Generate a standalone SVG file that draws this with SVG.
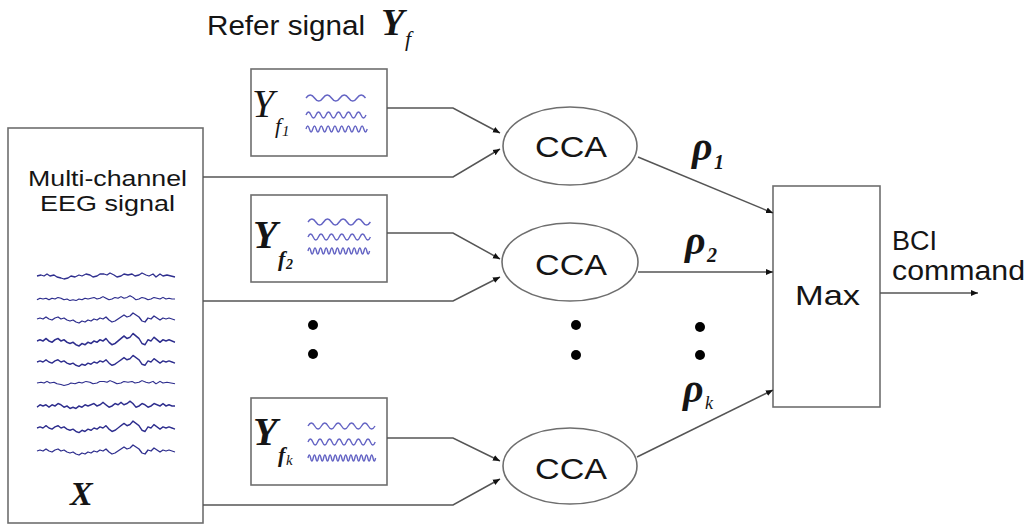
<svg xmlns="http://www.w3.org/2000/svg" xmlns:xlink="http://www.w3.org/1999/xlink" width="1028" height="527" viewBox="0 0 1028 527">
<style>
.box{fill:#fff;stroke:#6e6e6e;stroke-width:1.6}
.ell{fill:#fff;stroke:#6e6e6e;stroke-width:1.6}
.lbl{font-family:"Liberation Sans",Arial,sans-serif;fill:#151515}
.math{font-family:"Liberation Serif","Times New Roman",serif;font-style:italic;fill:#151515}
.conn{fill:none;stroke:#555;stroke-width:1.5}
.wave{fill:none;stroke:#6464c4;stroke-width:1.4}
.eeg{fill:none;stroke:#2e2e8e;stroke-width:1.3;stroke-linejoin:round;vector-effect:non-scaling-stroke}
.dot{fill:#000}
</style>
<defs>
<marker id="ah" markerWidth="9" markerHeight="8" refX="7" refY="4" orient="auto" markerUnits="userSpaceOnUse"><path d="M0,1 L7,4 L0,7 z" fill="#111"/></marker>
<polyline id="eegA" points="37,0 41,-1 44,0 47,-2 50,0 54,-1 57,1 61,2 64,3 68,2 71,0 75,1 79,-1 82,0 86,-2 90,-1 93,1 97,0 100,-2 104,-2 107,-1 110,-3 114,-1 117,1 121,0 124,-2 128,-1 132,-2 135,0 139,-1 142,-3 146,-1 149,0 153,-2 156,1 160,-2 163,0 167,-1 171,0 175,1"/>
<polyline id="eegB" points="37,0 40,-1 43,0 46,-2 49,0 52,1 55,-1 58,-2 61,0 64,-1 67,1 70,2 73,1 76,3 79,4 82,2 85,3 88,1 91,2 94,0 97,1 100,-1 103,0 106,-2 109,1 112,3 115,2 118,0 121,-2 124,-4 127,-2 130,-3 133,-6 136,-4 139,-2 142,2 145,3 148,-1 151,0 154,-3 157,-1 160,1 163,-1 166,0 169,-1 172,0 175,1"/>
<polyline id="eegC" points="37,1 40,-1 43,0 46,-1 49,1 52,-1 55,0 58,-2 61,-1 64,1 67,0 70,2 73,1 76,2 79,0 82,1 85,-1 88,0 91,-1 94,-2 97,0 100,-1 103,-3 106,-1 109,1 112,0 115,-2 118,-1 121,-3 124,-1 127,-2 130,-4 133,-2 136,1 139,0 142,-2 145,-1 148,1 151,0 154,-2 157,-1 160,0 163,-2 166,0 169,-1 172,0 175,0"/>
</defs>

<g id="refer-title">
<text class="lbl" x="207" y="35" font-size="27" textLength="158" lengthAdjust="spacingAndGlyphs">Refer signal</text>
<text class="math" x="381" y="35" font-size="38" font-weight="bold">Y</text>
<text class="math" x="405" y="46" font-size="22">f</text>
</g>

<g id="eeg-signal">
<rect class="box" x="8" y="128" width="195" height="395"/>
<text class="lbl" x="28" y="186" font-size="22" textLength="159" lengthAdjust="spacingAndGlyphs">Multi-channel</text>
<text class="lbl" x="40" y="211" font-size="22" textLength="135" lengthAdjust="spacingAndGlyphs">EEG signal</text>
<use xlink:href="#eegA" class="eeg" transform="translate(0,276)"/>
<use xlink:href="#eegC" class="eeg" transform="translate(0,299) scale(1,0.8)"/>
<use xlink:href="#eegB" class="eeg" transform="translate(0,319)"/>
<use xlink:href="#eegB" class="eeg" transform="translate(0,341) scale(1,1.25)"/>
<use xlink:href="#eegB" class="eeg" transform="translate(0,362) scale(1,1.1)"/>
<use xlink:href="#eegA" class="eeg" transform="translate(0,383) scale(1,0.8)"/>
<use xlink:href="#eegC" class="eeg" transform="translate(0,406) scale(1,1.2)"/>
<use xlink:href="#eegB" class="eeg" transform="translate(0,428) scale(1,1.15)"/>
<use xlink:href="#eegB" class="eeg" transform="translate(0,451)"/>
<text class="math" x="70" y="505" font-size="34" font-weight="bold">X</text>
</g>

<g id="ref-f1">
<rect class="box" x="251" y="69" width="136" height="87"/>
<text class="math" x="252" y="117" font-size="40">Y</text>
<text class="math" x="275" y="133" font-size="22">f</text>
<text class="math" x="282" y="136" font-size="15" font-style="normal">1</text>
<path class="wave" d="M306,98 q4.25,-6 8.5,0 t8.5,0 t8.5,0 t8.5,0 t8.5,0 t8.5,0 t8.5,0"/>
<path class="wave" d="M306,115 q2.5,-6 5,0 t5,0 t5,0 t5,0 t5,0 t5,0 t5,0 t5,0 t5,0 t5,0 t5,0 t5,0"/>
<path class="wave" d="M306,129 q1.7,-6 3.4,0 t3.4,0 t3.4,0 t3.4,0 t3.4,0 t3.4,0 t3.4,0 t3.4,0 t3.4,0 t3.4,0 t3.4,0 t3.4,0 t3.4,0 t3.4,0 t3.4,0 t3.4,0 t3.4,0 t3.4,0"/>
</g>

<g id="ref-f2">
<rect class="box" x="251" y="195" width="136" height="87"/>
<text class="math" x="253" y="248" font-size="40" font-weight="bold">Y</text>
<text class="math" x="278" y="266" font-size="22" font-weight="bold">f</text>
<text class="math" x="286" y="269" font-size="14" font-weight="bold" font-style="normal">2</text>
<path class="wave" d="M308,222 q3.9,-6 7.8,0 t7.8,0 t7.8,0 t7.8,0 t7.8,0 t7.8,0 t7.8,0 t7.8,0"/>
<path class="wave" d="M308,237 q2.6,-6 5.2,0 t5.2,0 t5.2,0 t5.2,0 t5.2,0 t5.2,0 t5.2,0 t5.2,0 t5.2,0 t5.2,0 t5.2,0 t5.2,0"/>
<path class="wave" d="M308,251 q1.4,-6 2.8,0 t2.8,0 t2.8,0 t2.8,0 t2.8,0 t2.8,0 t2.8,0 t2.8,0 t2.8,0 t2.8,0 t2.8,0 t2.8,0 t2.8,0 t2.8,0 t2.8,0 t2.8,0 t2.8,0 t2.8,0 t2.8,0 t2.8,0 t2.8,0 t2.8,0"/>
</g>

<g id="ref-fk">
<rect class="box" x="251" y="398" width="136" height="87"/>
<text class="math" x="253" y="445" font-size="40" font-weight="bold">Y</text>
<text class="math" x="278" y="462" font-size="22" font-weight="bold">f</text>
<text class="math" x="286" y="465" font-size="15">k</text>
<path class="wave" d="M308,426 q3.35,-6 6.7,0 t6.7,0 t6.7,0 t6.7,0 t6.7,0 t6.7,0 t6.7,0 t6.7,0 t6.7,0 t6.7,0"/>
<path class="wave" d="M308,442 q2.4,-6 4.8,0 t4.8,0 t4.8,0 t4.8,0 t4.8,0 t4.8,0 t4.8,0 t4.8,0 t4.8,0 t4.8,0 t4.8,0 t4.8,0 t4.8,0 t4.8,0"/>
<path class="wave" d="M308,458 q1.3,-6 2.6,0 t2.6,0 t2.6,0 t2.6,0 t2.6,0 t2.6,0 t2.6,0 t2.6,0 t2.6,0 t2.6,0 t2.6,0 t2.6,0 t2.6,0 t2.6,0 t2.6,0 t2.6,0 t2.6,0 t2.6,0 t2.6,0 t2.6,0 t2.6,0 t2.6,0 t2.6,0 t2.6,0 t2.6,0 t2.6,0"/>
</g>

<g id="cca1">
<ellipse class="ell" cx="570" cy="146" rx="67" ry="39"/>
<text class="lbl" x="535" y="157" font-size="30" textLength="72" lengthAdjust="spacingAndGlyphs">CCA</text>
</g>
<g id="cca2">
<ellipse class="ell" cx="570" cy="262" rx="68" ry="39"/>
<text class="lbl" x="535" y="275" font-size="30" textLength="72" lengthAdjust="spacingAndGlyphs">CCA</text>
</g>
<g id="ccak">
<ellipse class="ell" cx="570" cy="466" rx="67" ry="38"/>
<text class="lbl" x="535" y="479" font-size="30" textLength="72" lengthAdjust="spacingAndGlyphs">CCA</text>
</g>

<g id="max">
<rect class="box" x="773" y="186" width="107" height="221"/>
<text class="lbl" x="795" y="305" font-size="28" textLength="65" lengthAdjust="spacingAndGlyphs">Max</text>
</g>

<g id="output-label">
<text class="lbl" x="892" y="250" font-size="27" textLength="45" lengthAdjust="spacingAndGlyphs">BCI</text>
<text class="lbl" x="892" y="280" font-size="27" textLength="133" lengthAdjust="spacingAndGlyphs">command</text>
</g>

<g id="rho-labels">
<text class="math" x="692" y="160" font-size="40" font-weight="bold">ρ</text>
<text class="math" x="714" y="169" font-size="20" font-weight="bold" font-style="normal">1</text>
<text class="math" x="685" y="254" font-size="40" font-weight="bold">ρ</text>
<text class="math" x="707" y="262" font-size="20" font-weight="bold" font-style="normal">2</text>
<text class="math" x="683" y="402" font-size="40" font-weight="bold">ρ</text>
<text class="math" x="705" y="409" font-size="18">k</text>
</g>

<g id="ellipsis-dots">
<circle class="dot" cx="313" cy="325" r="5"/>
<circle class="dot" cx="313" cy="354" r="5"/>
<circle class="dot" cx="576" cy="325" r="5"/>
<circle class="dot" cx="576" cy="355" r="5"/>
<circle class="dot" cx="700" cy="327" r="5"/>
<circle class="dot" cx="700" cy="355" r="5"/>
</g>

<g id="connectors">
<polyline class="conn" points="387,108 453,108 500,133" marker-end="url(#ah)"/>
<polyline class="conn" points="203,177 453,177 500,149" marker-end="url(#ah)"/>
<polyline class="conn" points="387,233 453,233 500,259" marker-end="url(#ah)"/>
<polyline class="conn" points="203,301 453,301 500,277" marker-end="url(#ah)"/>
<polyline class="conn" points="387,438 453,438 500,461" marker-end="url(#ah)"/>
<polyline class="conn" points="203,505 453,505 500,479" marker-end="url(#ah)"/>
<line class="conn" x1="638" y1="157" x2="773" y2="213" marker-end="url(#ah)"/>
<line class="conn" x1="638" y1="272" x2="773" y2="272" marker-end="url(#ah)"/>
<line class="conn" x1="637" y1="457" x2="773" y2="390" marker-end="url(#ah)"/>
<line class="conn" x1="880" y1="293" x2="978" y2="293" marker-end="url(#ah)"/>
</g>
</svg>
